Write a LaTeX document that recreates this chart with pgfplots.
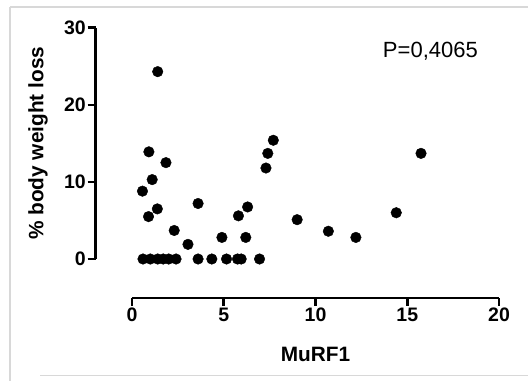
\documentclass[border=0pt]{standalone}
\usepackage{fontspec}
\setmainfont{Liberation Sans}
\newfontfamily\bsans{Liberation Sans Bold}
\usepackage{pgfplots}
\pgfplotsset{compat=1.18}
\definecolor{framegray}{RGB}{216,216,216}
\newcommand\tl[1]{{\bsans\fontsize{19.5bp}{19.5bp}\selectfont #1}}
\newcommand\lb[1]{{\bsans\fontsize{20.8bp}{20.8bp}\selectfont #1}}
\begin{document}
\begin{tikzpicture}[x=1bp,y=1bp]
\useasboundingbox (0,0) rectangle (528,381);
\fill[white] (0,0) rectangle (528,381);
\draw[framegray, line width=1.5bp] (10,374) -- (528,374);
\draw[framegray, line width=1.5bp] (10,374) -- (10,0);
\draw[framegray, line width=1.5bp] (40,5.5) -- (528,5.5);
\begin{axis}[
  at={(132bp,122bp)}, anchor=south west,
  scale only axis, width=367bp, height=231.3bp,
  xmin=0, xmax=20, ymin=0, ymax=30,
  axis lines=left, axis line style={line width=2.6bp,-},
  axis x line shift=38.8bp, axis y line shift=36.5bp,
  xtick={0,5,10,15,20}, ytick={0,10,20,30},
  xticklabels={\tl{0},\tl{5},\tl{10},\tl{15},\tl{20}},
  yticklabels={\tl{0},\tl{10},\tl{20},\tl{30}},
  minor tick num=0,
  tick align=outside, major tick length=8bp,
  tick style={line width=2.6bp, black},
  xticklabel style={inner sep=1bp, text height=14bp},
  yticklabel style={inner sep=1.5bp},
  xlabel={\lb{MuRF1}}, ylabel={\lb{\% body weight loss}},
  xlabel style={at={(axis description cs:0.5,-0.444)}, anchor=base},
  ylabel style={at={(axis description cs:-0.256,0.5)}, anchor=center},
  clip=false,
]
\addplot[only marks, mark=*, mark size=5.3bp, black, mark options={draw=black, fill=black}] table {
x y
1.4 24.3
0.92 13.9
1.85 12.5
1.1 10.3
0.57 8.8
1.38 6.5
0.9 5.5
2.3 3.7
3.05 1.9
3.6 7.2
4.9 2.8
5.8 5.6
6.3 6.75
6.2 2.8
7.3 11.8
7.4 13.7
7.7 15.4
9.0 5.1
10.7 3.6
12.2 2.8
14.4 6.0
15.75 13.7
0.6 0
1.0 0
1.4 0
1.7 0
2.0 0
2.4 0
3.6 0
4.35 0
5.15 0
5.75 0
5.95 0
6.95 0
};
\end{axis}
\node[anchor=base east, font=\fontsize{22bp}{22bp}\selectfont, inner sep=0pt] at (478,323.3) {P=0,4065};
\end{tikzpicture}
\end{document}
